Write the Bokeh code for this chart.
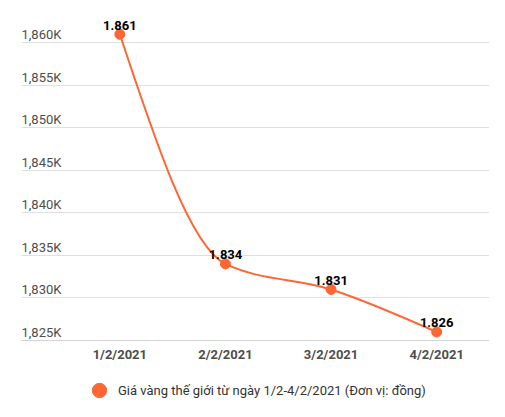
from bokeh.plotting import figure
from bokeh.layouts import column
from bokeh.models import ColumnDataSource, FixedTicker, Range1d, Legend, LegendItem
from bokeh.core.properties import value
from bokeh.embed import file_html
from bokeh.resources import INLINE

# data (thousands)
dates = ["1/2/2021", "2/2/2021", "3/2/2021", "4/2/2021"]
prices = [1861, 1834, 1831, 1826]
price_labels = ["1.861", "1.834", "1.831", "1.826"]
y_ticks = [1825, 1830, 1835, 1840, 1845, 1850, 1855, 1860]
y_tick_labels = ["1,825K", "1,830K", "1,835K", "1,840K", "1,845K", "1,850K", "1,855K", "1,860K"]
series_name = "Giá vàng thế giới từ ngày 1/2-4/2/2021 (Đơn vị: đồng)"

ORANGE = "#FF6633"
FONT = "Roboto"
GREY = "#4d4d4d"


def monotone_segments(xs, ys):
    # monotone cubic (d3 curveMonotoneX style) as bezier pieces
    n = len(xs)
    h = [xs[i + 1] - xs[i] for i in range(n - 1)]
    s = [(ys[i + 1] - ys[i]) / h[i] for i in range(n - 1)]
    sign = lambda v: (v > 0) - (v < 0)
    m = [0.0] * n
    for i in range(1, n - 1):
        p = (s[i - 1] * h[i] + s[i] * h[i - 1]) / (h[i - 1] + h[i])
        m[i] = (sign(s[i - 1]) + sign(s[i])) * min(abs(s[i - 1]), abs(s[i]), 0.5 * abs(p))
    m[0] = (3 * s[0] - m[1]) / 2
    m[-1] = (3 * s[-1] - m[-2]) / 2
    seg = dict(x0=[], y0=[], x1=[], y1=[], cx0=[], cy0=[], cx1=[], cy1=[])
    for i in range(n - 1):
        dx = h[i] / 3
        seg["x0"].append(xs[i]); seg["y0"].append(ys[i])
        seg["x1"].append(xs[i + 1]); seg["y1"].append(ys[i + 1])
        seg["cx0"].append(xs[i] + dx); seg["cy0"].append(ys[i] + m[i] * dx)
        seg["cx1"].append(xs[i + 1] - dx); seg["cy1"].append(ys[i + 1] - m[i + 1] * dx)
    return seg


xs = list(range(len(dates)))
x_start = -0.931

p = figure(
    width=489, height=374,
    x_range=Range1d(x_start, 3.5), y_range=Range1d(1825, 1863.56),
    output_backend="svg", toolbar_location=None, tools="",
    min_border_left=21, min_border_right=0, min_border_top=12, min_border_bottom=34,
)
p.outline_line_color = None
p.background_fill_color = "white"

p.yaxis.visible = False
p.xgrid.visible = False
p.ygrid.ticker = FixedTicker(ticks=y_ticks)
p.ygrid.grid_line_color = "#e0e0e0"

p.xaxis.ticker = FixedTicker(ticks=xs)
p.xaxis.major_label_overrides = {i: d for i, d in enumerate(dates)}
p.xaxis.major_tick_line_color = None
p.xaxis.minor_tick_line_color = None
p.xaxis.major_tick_out = 0
p.xaxis.axis_line_color = "#d4d4d4"
p.xaxis.major_label_standoff = 6
p.xaxis.major_label_text_font = FONT
p.xaxis.major_label_text_font_size = "13px"
p.xaxis.major_label_text_font_style = "bold"
p.xaxis.major_label_text_color = GREY

# y tick labels sit above the grid lines at the far left
tick_src = ColumnDataSource(data=dict(x=[x_start] * len(y_ticks), y=y_ticks, t=y_tick_labels))
p.text("x", "y", text="t", source=tick_src, text_font=value(FONT), text_font_size="13px",
       text_color=GREY, text_align="left", text_baseline="middle", y_offset=-8)

p.bezier(source=ColumnDataSource(monotone_segments(xs, prices)), x0="x0", y0="y0", x1="x1", y1="y1",
         cx0="cx0", cy0="cy0", cx1="cx1", cy1="cy1", line_color=ORANGE, line_width=2)

src = ColumnDataSource(data=dict(x=xs, y=prices, lbl=price_labels))
p.scatter("x", "y", source=src, size=10, marker="circle", fill_color=ORANGE, line_color=ORANGE)
p.text("x", "y", text="lbl", source=src, text_font=value(FONT), text_font_size="13px",
       text_font_style="bold", text_color="#000000", text_align="center", text_baseline="middle",
       y_offset=-9)

# legend strip under the chart
leg = figure(width=489, height=27, x_range=Range1d(0, 1), y_range=Range1d(0, 1),
             x_axis_type=None, y_axis_type=None, output_backend="svg", toolbar_location=None,
             tools="", min_border=0)
leg.outline_line_color = None
leg.grid.visible = False

# swatch: an ellipse with no position, so it only shows in the legend
swatch = leg.ellipse(x=[float("nan")], y=[float("nan")], width=14, height=14,
                     width_units="screen", height_units="screen",
                     fill_color=ORANGE, line_color=ORANGE)

legend = Legend(items=[LegendItem(label=series_name, renderers=[swatch])], location=(69, 2))
legend.glyph_width = 18
legend.glyph_height = 18
legend.label_height = 18
legend.label_standoff = 10
legend.padding = 0
legend.margin = 0
legend.border_line_color = None
legend.background_fill_alpha = 0
legend.label_text_font = FONT
legend.label_text_font_size = "13px"
legend.label_text_color = "#333333"
leg.add_layout(legend)

layout = column(p, leg)
open("out.html", "w").write(file_html(layout, INLINE))
